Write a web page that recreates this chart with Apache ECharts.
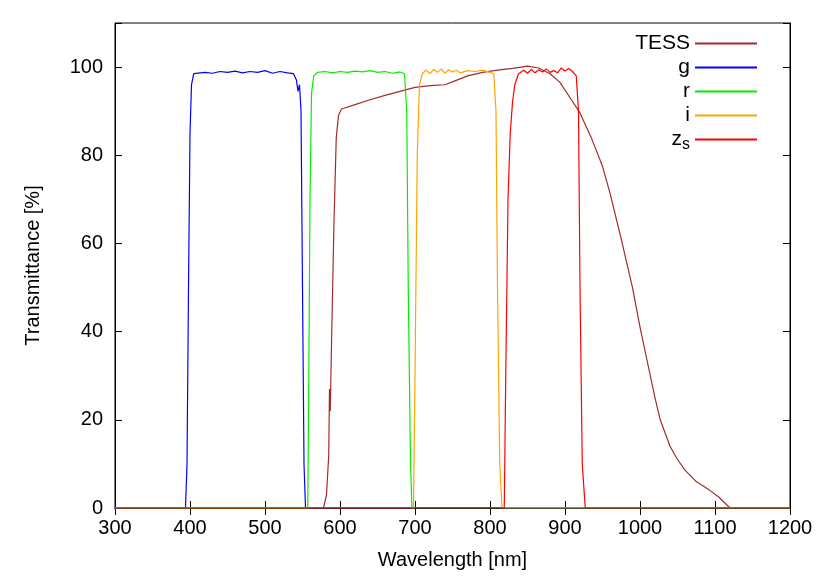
<!DOCTYPE html>
<html>
<head>
<meta charset="utf-8">
<script src="https://cdn.jsdelivr.net/npm/echarts@6/dist/echarts.min.js"></script>
<style>html,body{margin:0;padding:0;background:#fff}#chart{width:830px;height:581px}</style>
</head>
<body>
<div id="chart"></div>
<script>
// transmission curves, [wavelength nm, transmittance %]
var tess = [[300,0],[578,0],[582,3],[585,12],[586,27],[587,22],[589,40],[592,65],[595,84],[598,89],[602,90.5],[620,91.5],[640,92.6],[660,93.6],[680,94.5],[700,95.4],[720,95.8],[740,96],[755,97],[770,98],[790,98.8],[810,99.3],[830,99.7],[850,100.2],[865,99.8],[880,98.5],[893,96.6],[905,93.5],[920,89.6],[935,84],[950,77.5],[960,71.4],[975,61],[990,50],[1000,41],[1010,33],[1020,25],[1027,20],[1040,14],[1050,11],[1060,8.6],[1075,6],[1093,4],[1105,2.5],[1120,0],[1200,0]];
var gBand = [[300,0],[394,0],[396,10],[398,50],[400,85],[402,96],[405,98.5],[420,98.8],[430,98.6],[440,99],[450,98.8],[460,99.1],[470,98.7],[480,99],[490,98.8],[500,99.2],[510,98.6],[520,99],[530,98.7],[538,98.5],[542,97],[544,94.5],[546,96],[548,90],[550,50],[552,10],[554,0],[1200,0]];
var rBand = [[300,0],[557,0],[558,20],[560,70],[562,94],[565,98],[570,98.8],[580,99],[590,98.7],[600,99],[610,98.8],[620,99.1],[630,98.9],[640,99.2],[650,98.8],[660,99],[670,98.6],[680,98.9],[686,98.5],[689,90],[691,50],[694,10],[696,0],[1200,0]];
var iBand = [[300,0],[698,0],[700,30],[703,80],[706,96],[710,98.6],[715,99.3],[720,98.5],[725,99.5],[730,98.8],[735,99.6],[740,98.6],[745,99.4],[750,98.9],[755,99.3],[760,98.7],[770,99.2],[780,99],[790,99.3],[800,98.8],[805,98.5],[808,90],[810,50],[813,10],[816,0],[1200,0]];
var zBand = [[300,0],[819,0],[821,30],[824,70],[827,85],[830,92],[833,96],[838,98.5],[845,99.3],[850,98.6],[855,99.5],[860,98.7],[865,99.4],[870,98.9],[875,99.6],[880,98.8],[885,99.2],[890,98.7],[895,99.8],[900,99.1],[905,99.7],[910,99],[915,98],[918,90],[920,50],[923,10],[927,0],[1200,0]];

var xTicks = [300,1200,100];
var yTicks = [0,110,20];

var font = 'Liberation Sans, Arial, sans-serif';
var myChart = echarts.init(document.getElementById('chart'));

function line(name, data, color) {
    return {name: name, type: 'line', data: data, showSymbol: false, animation: false,
        lineStyle: {color: color, width: 1.2}, itemStyle: {color: color}};
}

var option = {
    backgroundColor: '#fff',
    grid: {left: 115, right: 40, top: 23, bottom: 73, show: true, borderColor: '#000', borderWidth: 1},
    legend: {
        orient: 'vertical', right: 68, top: 28, align: 'right', itemGap: 3,
        itemWidth: 62, itemHeight: 10, icon: 'path://M0,4L62,4L62,6L0,6Z',
        textStyle: {fontFamily: font, fontSize: 21, color: '#000',
            rich: {sub: {fontSize: 16, verticalAlign: 'bottom', padding: [10, 0, 0, 0], fontFamily: font}}},
        formatter: function (n) { return n === 'zs' ? 'z{sub|s}' : n; },
        data: ['TESS', 'g', 'r', 'i', 'zs']
    },
    xAxis: [{
        type: 'value', min: xTicks[0], max: xTicks[1], interval: xTicks[2],
        name: 'Wavelength [nm]', nameLocation: 'middle', nameGap: 42,
        nameTextStyle: {fontFamily: font, fontSize: 20, color: '#000'},
        axisLine: {lineStyle: {color: '#000'}},
        axisTick: {inside: true, length: 7, lineStyle: {color: '#000'}},
        axisLabel: {fontFamily: font, fontSize: 20, color: '#000', margin: 10,
            formatter: function (v) { return String(v); }},
        splitLine: {show: false}
    }, {
        type: 'value', position: 'top', min: xTicks[0], max: xTicks[1], interval: xTicks[2],
        axisLine: {lineStyle: {color: '#000'}},
        axisTick: {inside: true, length: 7, lineStyle: {color: '#000'}},
        axisLabel: {show: false}, splitLine: {show: false}
    }],
    yAxis: [{
        type: 'value', min: yTicks[0], max: yTicks[1], interval: yTicks[2],
        name: 'Transmittance [%]', nameLocation: 'middle', nameGap: 72,
        nameTextStyle: {fontFamily: font, fontSize: 20, color: '#000'},
        axisLine: {show: true, lineStyle: {color: '#000'}},
        axisTick: {inside: true, length: 7, lineStyle: {color: '#000'}},
        axisLabel: {fontFamily: font, fontSize: 20, color: '#000', margin: 12,
            formatter: function (v) { return v > 100 ? '' : String(v); }},
        splitLine: {show: false}
    }, {
        type: 'value', position: 'right', min: yTicks[0], max: yTicks[1], interval: yTicks[2],
        axisLine: {show: true, lineStyle: {color: '#000'}},
        axisTick: {inside: true, length: 7, lineStyle: {color: '#000'}},
        axisLabel: {show: false}, splitLine: {show: false}
    }],
    series: [
        line('TESS', tess, '#a52a2a'),
        line('g', gBand, '#0000ff'),
        line('r', rBand, '#00ee00'),
        line('i', iBand, '#ffa500'),
        line('zs', zBand, '#ff0000')
    ]
};
myChart.setOption(option);
</script>
</body>
</html>
